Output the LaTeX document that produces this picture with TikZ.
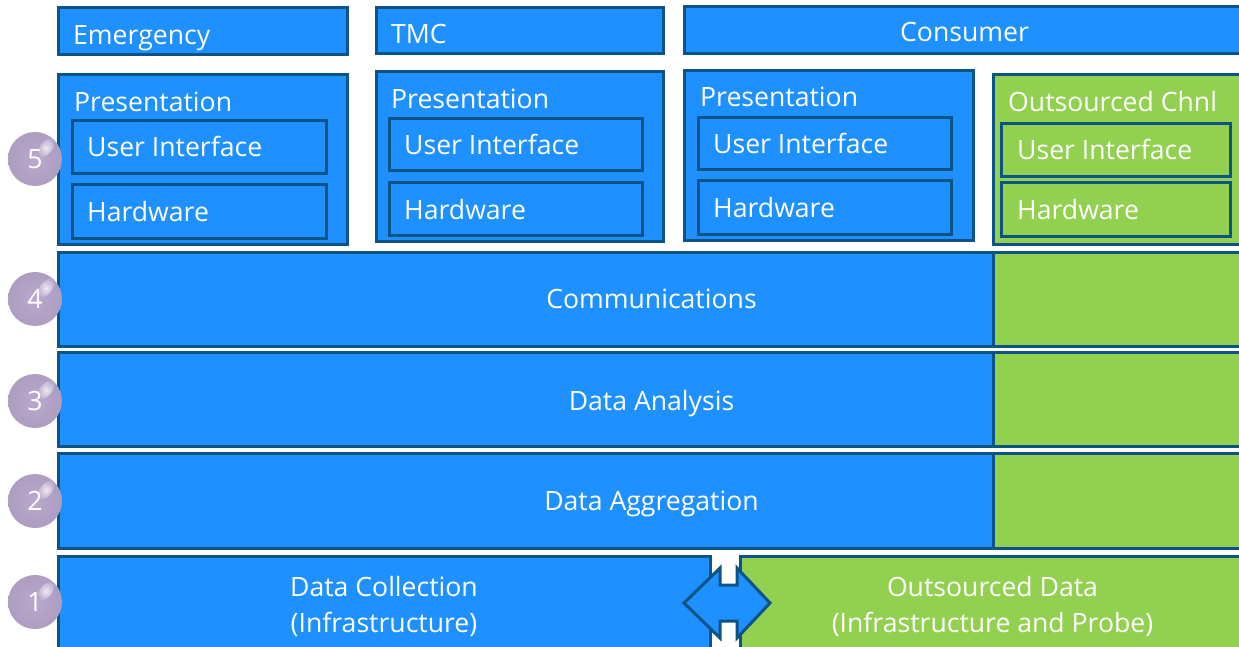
\documentclass[tikz,border=0pt]{standalone}
\usepackage{fontspec}
\setmainfont{Open Sans}
\definecolor{boxblue}{RGB}{30,144,255}
\definecolor{boxgreen}{RGB}{146,208,80}
\definecolor{edgeblue}{RGB}{12,84,134}
\definecolor{ballpurple}{RGB}{180,164,201}
\begin{document}
\begin{tikzpicture}[x=1pt,y=-1pt,
  layer/.style={draw=edgeblue, line width=3pt, fill=boxblue, rectangle, anchor=north west, inner sep=0pt, outer sep=0pt},
  glayer/.style={layer, fill=boxgreen},
  lbl/.style={text=white, font=\fontsize{26.6}{31}\selectfont, inner sep=0pt},
  ball/.style={circle, minimum size=54pt, inner sep=0pt, inner color=ballpurple!94!white, outer color=ballpurple!96!black}
]
\useasboundingbox (0,0) rectangle (1239,647);
\clip (0,0) rectangle (1239,647);

% top row: audiences
\node[layer, minimum width=289, minimum height=47] (emg) at (58,8) {};
\node[layer, minimum width=287, minimum height=46] (tmc) at (376,8) {};
\node[layer, minimum width=561, minimum height=47] (con) at (684,7) {};
\node[lbl, anchor=base west] (temg) at (73,45) {Emergency};
\node[lbl, anchor=base west] (ttmc) at (391,44) {TMC};
\node[lbl, anchor=base] (tcon) at (964.5,42) {Consumer};

% layer 5: presentation columns
\node[layer, minimum width=289, minimum height=169] (p1) at (58,75) {};
\node[layer, minimum width=254, minimum height=53] (ui1) at (72,121) {};
\node[layer, minimum width=254, minimum height=53] (hw1) at (72,185) {};
\node[lbl, anchor=base west] (tp1) at (74,112) {Presentation};
\node[lbl, anchor=base west] (tui1) at (87,157) {User Interface};
\node[lbl, anchor=base west] (thw1) at (87,222) {Hardware};

\node[layer, minimum width=287, minimum height=169] (p2) at (376,72) {};
\node[layer, minimum width=253, minimum height=52] (ui2) at (389,119) {};
\node[layer, minimum width=253, minimum height=52] (hw2) at (389,183) {};
\node[lbl, anchor=base west] (tp2) at (391,109) {Presentation};
\node[lbl, anchor=base west] (tui2) at (404,155) {User Interface};
\node[lbl, anchor=base west] (thw2) at (404,219) {Hardware};

\node[layer, minimum width=289, minimum height=169] (p3) at (684,71) {};
\node[layer, minimum width=253, minimum height=52] (ui3) at (698,118) {};
\node[layer, minimum width=253, minimum height=53] (hw3) at (698,181) {};
\node[lbl, anchor=base west] (tp3) at (700,107) {Presentation};
\node[lbl, anchor=base west] (tui3) at (713,154) {User Interface};
\node[lbl, anchor=base west] (thw3) at (713,218) {Hardware};

\node[glayer, minimum width=257, minimum height=169] (p4) at (993,75) {};
\node[glayer, minimum width=229, minimum height=53] (ui4) at (1001,124) {};
\node[glayer, minimum width=229, minimum height=53] (hw4) at (1001,183) {};
\node[lbl, anchor=base west] (tp4) at (1008,112) {Outsourced Chnl};
\node[lbl, anchor=base west] (tui4) at (1017,160) {User Interface};
\node[lbl, anchor=base west] (thw4) at (1017,219) {Hardware};

% layers 4 to 2: full-width bands with an outsourced segment
\node[layer, minimum width=1187, minimum height=94] (comm) at (58,252) {};
\node[glayer, minimum width=257, minimum height=94] (gcomm) at (993,252) {};
\node[lbl, anchor=base] (tcomm) at (651.5,308) {Communications};

\node[layer, minimum width=1187, minimum height=94] (ana) at (58,352) {};
\node[glayer, minimum width=257, minimum height=94] (gana) at (993,352) {};
\node[lbl, anchor=base] (tana) at (651.5,410) {Data Analysis};

\node[layer, minimum width=1187, minimum height=95] (agg) at (58,453) {};
\node[glayer, minimum width=257, minimum height=95] (gagg) at (993,453) {};
\node[lbl, anchor=base] (tagg) at (651.5,510) {Data Aggregation};

% layer 1: collection and outsourced data
\node[layer, minimum width=652, minimum height=124] (col) at (58,556) {};
\node[glayer, minimum width=505, minimum height=124] (out) at (740,556) {};
\node[lbl, anchor=base] (tcol1) at (384,596) {Data Collection};
\node[lbl, anchor=base] (tcol2) at (384,632) {(Infrastructure)};
\node[lbl, anchor=base] (tout1) at (992.5,596) {Outsourced Data};
\node[lbl, anchor=base] (tout2) at (992.5,632) {(Infrastructure and Probe)};

% exchange arrow between the two sources
\draw[draw=edgeblue, line width=3pt, fill=boxblue, line join=miter]
  (684,603) -- (720,568) -- (720,585) -- (737,585) -- (737,568) -- (770,603)
  -- (737,638) -- (737,621) -- (720,621) -- (720,638) -- cycle;

% layer numbers on glossy discs
\foreach \n/\yy in {5/159, 4/299, 3/401, 2/501, 1/602} {
  \node[ball] (b\n) at (35,\yy) {};
  \shade[inner color=white!90!ballpurple, outer color=ballpurple!94!white, opacity=0.85, rotate around={50:(46,\yy-11)}]
    (46,\yy-11) ellipse [x radius=11, y radius=6];
  \node[lbl] (n\n) at (b\n.center) {\n};
}
\end{tikzpicture}
\end{document}
